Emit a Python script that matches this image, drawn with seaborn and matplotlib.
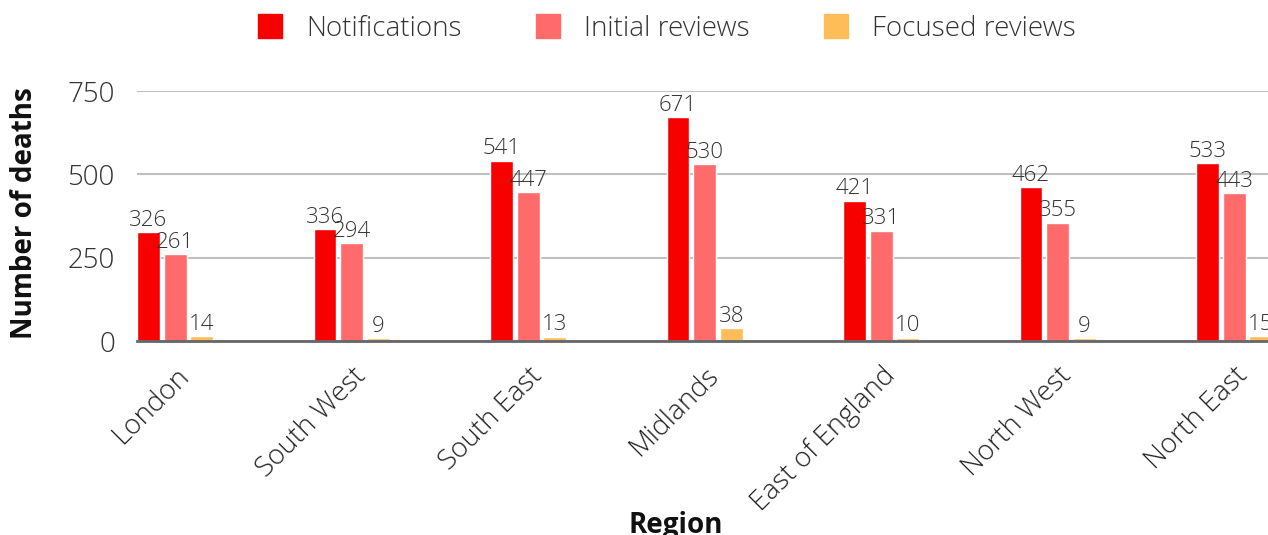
import numpy as np
import pandas as pd
import seaborn as sns
import matplotlib.pyplot as plt
from matplotlib.lines import Line2D

regions = ["London", "South West", "South East", "Midlands",
           "East of England", "North West", "North East"]
notifications = [326, 336, 541, 671, 421, 462, 533]
initial_reviews = [261, 294, 447, 530, 331, 355, 443]
focused_reviews = [14, 9, 13, 38, 10, 9, 15]
series_names = ["Notifications", "Initial reviews", "Focused reviews"]
series_colors = ["#F70000", "#FF6B6B", "#FFBD59"]
y_ticks = [0, 250, 500, 750]

df = pd.DataFrame({
    "Region": regions * 3,
    "Series": np.repeat(series_names, len(regions)),
    "Deaths": notifications + initial_reviews + focused_reviews,
})

sns.set_theme(style="white")
plt.rcParams["font.family"] = ["Open Sans", "DejaVu Sans"]
TEXT = "#333333"

W, H = 1268, 535
fig = plt.figure(figsize=(W / 100, H / 100), dpi=100)
left, right, top, bottom = 137, 1268, 91, 341
ax = fig.add_axes([left / W, 1 - bottom / H, (right - left) / W, (bottom - top) / H])

group_width, bar_gap = 0.453, 0.14
sns.barplot(data=df, x="Region", y="Deaths", hue="Series", hue_order=series_names,
            order=regions, palette=series_colors, saturation=1,
            width=group_width, gap=bar_gap, legend=False, ax=ax)

# value labels above each bar
for cont in ax.containers:
    ax.bar_label(cont, padding=1, fontsize=16, fontweight="light", color=TEXT, clip_on=False)

ax.set_ylim(0, 750)
ax.set_yticks(y_ticks)
# start the axis at the left edge of the first bar
x0 = -group_width / 2 + bar_gap * (group_width / 3) / 2
ax.set_xlim(x0, x0 + (right - left) / 176.5)

ax.yaxis.grid(True, color="#C0C0C0", lw=1.5)
ax.set_axisbelow(True)
for s in ["top", "right", "left"]:
    ax.spines[s].set_visible(False)
ax.spines["bottom"].set_color("#666666")
ax.spines["bottom"].set_linewidth(2)

ax.tick_params(axis="y", length=0, pad=16, labelsize=20, labelcolor=TEXT)
ax.tick_params(axis="x", length=0, pad=15, labelsize=20, labelcolor="#222222")
for lab in ax.get_yticklabels():
    lab.set_fontweight("light")
for lab in ax.get_xticklabels():
    lab.set_fontweight("light")
    lab.set_rotation(45)
    lab.set_ha("right")
    lab.set_rotation_mode("anchor")

ax.set_xlabel("")
ax.set_ylabel("")
fig.text(25 / W, 1 - 213 / H, "Number of deaths", rotation=90, ha="center", va="center",
         fontsize=20, fontweight="bold", color="#111111")
fig.text(676 / W, 1 - 525 / H, "Region", ha="center", va="center",
         fontsize=20, fontweight="bold", color="#111111")

handles = [Line2D([], [], ls="", marker="s", markersize=17, color=c) for c in series_colors]
leg = fig.legend(handles, series_names, loc="center", bbox_to_anchor=(666 / W, 1 - 29 / H),
                 ncol=3, frameon=False, fontsize=20, handlelength=1.0, handletextpad=0.8,
                 columnspacing=2.6, labelcolor=TEXT)
for t in leg.get_texts():
    t.set_fontweight("light")

fig.savefig("out.png", dpi=100)
